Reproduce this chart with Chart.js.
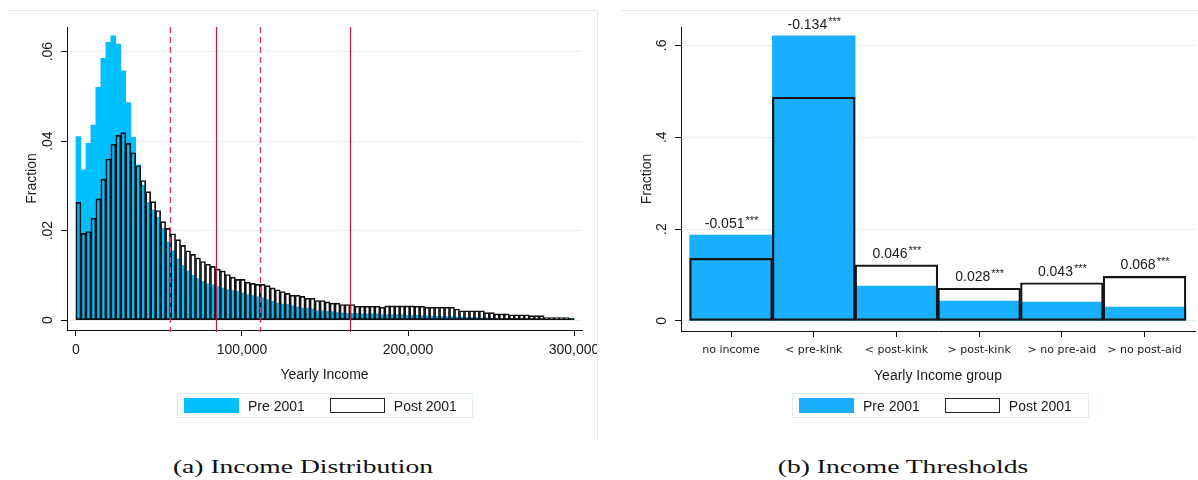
<!DOCTYPE html>
<html>
<head>
<meta charset="utf-8">
<script src="https://cdn.jsdelivr.net/npm/chart.js@4.4.0/dist/chart.umd.min.js"></script>
<style>
  body { margin: 0; background: #fff; width: 1198px; height: 480px; position: relative; overflow: hidden;
         font-family: "Liberation Sans", Arial, sans-serif; color: #1a1a1a; }
  .wrap { position: absolute; top: 0; height: 440px; }
  #leftWrap { left: 0; width: 597px; }
  #rightWrap { left: 600px; width: 598px; }
  .frameL { position: absolute; left: 8px; top: 10px; width: 589px; height: 430px;
            border-top: 1px solid #e3eded; border-right: 1px solid #e3eded; }
  .frameR { position: absolute; left: 621px; top: 10px; width: 577px; border-top: 1px solid #e3eded; }
  .legend { position: absolute; top: 393px; height: 25px; border: 1px solid #dcebee; box-sizing: border-box;
            display: flex; align-items: center; font-size: 14px; }
  .sw { width: 55px; height: 15px; box-sizing: border-box; margin: 0 9px 0 6px; }
  .caption { position: absolute; top: 456px; font-family: "Liberation Serif", serif; font-size: 19px; color: #111;
             transform: translateX(-50%) scaleX(1.45); white-space: nowrap; }
</style>
</head>
<body>
<div class="frameL"></div>
<div class="frameR"></div>
<div class="wrap" id="leftWrap"><canvas id="distChart" width="597" height="440"></canvas></div>
<div class="wrap" id="rightWrap"><canvas id="groupChart" width="598" height="440"></canvas></div>
<div class="legend" id="legendL" style="left:177px;width:296px;"></div>
<div class="legend" id="legendR" style="left:792px;width:297px;"></div>
<div class="caption" style="left:303px;">(a) Income Distribution</div>
<div class="caption" style="left:903px;">(b) Income Thresholds</div>

<script>
// ---- data: income distribution (bins of 3,000) ----
const binWidth = 3000;
const preDist = [
  0.0410, 0.0336, 0.0395, 0.0436, 0.0520, 0.0585, 0.0621, 0.0635, 0.0617, 0.0557,
  0.0486, 0.0409, 0.0347, 0.0302, 0.0263, 0.0246, 0.0230, 0.0205, 0.0175, 0.0155,
  0.0137, 0.0122, 0.0110, 0.0100, 0.0093, 0.0086, 0.0081, 0.0079, 0.0075, 0.0072,
  0.0068, 0.0066, 0.0064, 0.0061, 0.0057, 0.0055, 0.0052, 0.0050, 0.0046, 0.0042,
  0.0038, 0.0036, 0.0035, 0.0032, 0.0029, 0.0027, 0.0027, 0.0025, 0.0021, 0.0021,
  0.0020, 0.0019, 0.0017, 0.0016, 0.0015, 0.0015, 0.0015, 0.0014, 0.0014, 0.0014,
  0.0014, 0.0012, 0.0012, 0.0012, 0.0012, 0.0012, 0.0011, 0.0011, 0.0011, 0.0010,
  0.0010, 0.0009, 0.0009, 0.0008, 0.0008, 0.0008, 0.0007, 0.0007, 0.0006, 0.0006,
  0.0006, 0.0005, 0.0005, 0.0004, 0.0004, 0.0003, 0.0003, 0.0003, 0.0003, 0.0003,
  0.0002, 0.0002, 0.0002, 0.0002, 0.0002, 0.0002, 0.0002, 0.0002, 0.0002, 0.0002
];
const postDist = [
  0.0263, 0.0194, 0.0198, 0.0228, 0.0271, 0.0315, 0.0360, 0.0393, 0.0413, 0.0419,
  0.0395, 0.0374, 0.0345, 0.0312, 0.0287, 0.0265, 0.0245, 0.0220, 0.0205, 0.0193,
  0.0180, 0.0167, 0.0155, 0.0147, 0.0139, 0.0131, 0.0125, 0.0120, 0.0114, 0.0110,
  0.0102, 0.0096, 0.0091, 0.0091, 0.0085, 0.0082, 0.0080, 0.0080, 0.0077, 0.0072,
  0.0068, 0.0064, 0.0060, 0.0056, 0.0056, 0.0053, 0.0049, 0.0049, 0.0044, 0.0044,
  0.0041, 0.0038, 0.0038, 0.0035, 0.0035, 0.0035, 0.0031, 0.0031, 0.0031, 0.0031,
  0.0031, 0.0029, 0.0032, 0.0032, 0.0032, 0.0032, 0.0032, 0.0032, 0.0031, 0.0031,
  0.0029, 0.0029, 0.0029, 0.0029, 0.0029, 0.0029, 0.0025, 0.0021, 0.0021, 0.0021,
  0.0021, 0.0021, 0.0017, 0.0017, 0.0014, 0.0014, 0.0014, 0.0012, 0.0012, 0.0012,
  0.0012, 0.0010, 0.0010, 0.0010, 0.0006, 0.0006, 0.0006, 0.0006, 0.0006, 0.0004
];
const dashedThresholds = [56500, 111000];
const solidThresholds = [84500, 165000];
const incomeTicks = [0, 100000, 200000, 300000];
const distYTicks = [0, 0.02, 0.04, 0.06];
const distYLabels = ["0", ".02", ".04", ".06"];

// ---- data: income groups ----
const groups = ["no income", "< pre-kink", "< post-kink", "> post-kink", "> no pre-aid", "> no post-aid"];
const preGroup = [0.187, 0.621, 0.076, 0.043, 0.041, 0.030];
const postGroup = [0.136, 0.487, 0.122, 0.071, 0.083, 0.097];
const diffLabels = ["-0.051", "-0.134", "0.046", "0.028", "0.043", "0.068"];
const diffStars = ["***", "***", "***", "***", "***", "***"];
const groupYTicks = [0, 0.2, 0.4, 0.6];
const groupYLabels = ["0", ".2", ".4", ".6"];

const seriesNames = ["Pre 2001", "Post 2001"];

Chart.defaults.font.family = '"Liberation Sans", Arial, sans-serif';
Chart.defaults.font.size = 14;
Chart.defaults.color = "#1a1a1a";

const TXT = "#1a1a1a";
const GRID = "#e6efef";

// y tick labels are rotated (read bottom to top), drawn by hand
function rotatedYLabels(values, labels, centerX) {
  return {
    id: "rotY",
    afterDraw(chart) {
      const ctx = chart.ctx, ys = chart.scales.y;
      ctx.save();
      ctx.font = '14px "Liberation Sans", Arial, sans-serif';
      ctx.fillStyle = TXT;
      ctx.textAlign = "center";
      ctx.textBaseline = "middle";
      values.forEach((v, i) => {
        ctx.save();
        ctx.translate(centerX, ys.getPixelForValue(v));
        ctx.rotate(-Math.PI / 2);
        ctx.fillText(labels[i], 0, 0);
        ctx.restore();
      });
      ctx.restore();
    }
  };
}

function yAxis(min, max, ticks, width, titlePad) {
  return {
    min: min, max: max,
    afterBuildTicks: s => { s.ticks = ticks.map(v => ({ value: v })); },
    afterFit: s => { s.width = width; s.paddingTop = 0; s.paddingBottom = 0; },
    ticks: { display: false },
    grid: { color: GRID, lineWidth: 1, drawTicks: true, tickLength: 6, tickColor: "#111" },
    border: { display: true, color: "#111", width: 1 },
    title: { display: true, text: "Fraction", color: TXT, font: { size: 14 }, padding: { top: titlePad, bottom: 0 } }
  };
}

// --- Left: histogram ---
const thresholdLines = {
  id: "thresholds",
  afterDatasetsDraw(chart) {
    const ctx = chart.ctx, xs = chart.scales.x, area = chart.chartArea;
    ctx.save();
    ctx.strokeStyle = "#c8173f";
    ctx.lineWidth = 1.2;
    solidThresholds.forEach(v => {
      const x = Math.round(xs.getPixelForValue(v)) + 0.5;
      ctx.beginPath(); ctx.moveTo(x, area.top); ctx.lineTo(x, area.bottom + 2); ctx.stroke();
    });
    ctx.strokeStyle = "#d4416a";
    ctx.lineWidth = 1.4;
    ctx.setLineDash([6, 4]);
    dashedThresholds.forEach(v => {
      const x = Math.round(xs.getPixelForValue(v)) + 0.5;
      ctx.beginPath(); ctx.moveTo(x, area.top); ctx.lineTo(x, area.bottom + 2); ctx.stroke();
    });
    ctx.restore();
  }
};

new Chart(document.getElementById("distChart"), {
  type: "bar",
  data: {
    datasets: [
      {
        label: seriesNames[0],
        data: preDist.map((v, i) => ({ x: binWidth * i + binWidth / 2, y: v })),
        backgroundColor: "#00bfff",
        borderWidth: 0,
        barPercentage: 1, categoryPercentage: 1, grouped: false, order: 2
      },
      {
        label: seriesNames[1],
        data: postDist.map((v, i) => ({ x: binWidth * i + binWidth / 2, y: v })),
        backgroundColor: "rgba(0,0,0,0)",
        borderColor: "#111",
        borderWidth: 1,
        borderSkipped: false,
        barPercentage: 1, categoryPercentage: 1, grouped: false, order: 1
      }
    ]
  },
  options: {
    responsive: false,
    animation: false,
    layout: { padding: { top: 27, right: 15, left: 0, bottom: 0 } },
    plugins: { legend: { display: false }, tooltip: { enabled: false } },
    scales: {
      x: {
        type: "linear",
        offset: false,
        min: -5400, max: 304800,
        afterBuildTicks: s => { s.ticks = incomeTicks.map(v => ({ value: v })); },
        afterFit: s => { s.height = 110; s.paddingLeft = 0; s.paddingRight = 0; },
        ticks: { color: TXT, font: { size: 14 }, padding: 6, maxRotation: 0,
                 callback: v => Number(v).toLocaleString("en-US") },
        grid: { offset: false, drawOnChartArea: false, drawTicks: true, tickLength: 6, tickColor: "#111" },
        border: { display: true, color: "#111", width: 1 },
        title: { display: true, text: "Yearly Income", color: TXT, font: { size: 14 }, padding: { top: 0, bottom: 56 } }
      },
      y: yAxis(-0.0022, 0.0655, distYTicks, 67, 24)
    }
  },
  plugins: [thresholdLines, rotatedYLabels(distYTicks, distYLabels, 48)]
});

// --- Right: income groups ---
const diffText = {
  id: "diffText",
  afterDatasetsDraw(chart) {
    const ctx = chart.ctx, xs = chart.scales.x, ys = chart.scales.y;
    ctx.save();
    ctx.fillStyle = TXT;
    ctx.textAlign = "left";
    ctx.textBaseline = "middle";
    groups.forEach((g, i) => {
      const top = ys.getPixelForValue(Math.max(preGroup[i], postGroup[i]));
      const cx = xs.getPixelForValue(i);
      ctx.font = '14px "Liberation Sans", Arial, sans-serif';
      const w1 = ctx.measureText(diffLabels[i]).width;
      ctx.font = '11px "Liberation Sans", Arial, sans-serif';
      const w2 = ctx.measureText(diffStars[i]).width;
      const x0 = cx - (w1 + w2) / 2;
      ctx.font = '14px "Liberation Sans", Arial, sans-serif';
      ctx.fillText(diffLabels[i], x0, top - 11);
      ctx.font = '11px "Liberation Sans", Arial, sans-serif';
      ctx.fillText(diffStars[i], x0 + w1 + 1, top - 14);
    });
    ctx.restore();
  }
};

new Chart(document.getElementById("groupChart"), {
  type: "bar",
  data: {
    datasets: [
      {
        label: seriesNames[0],
        data: preGroup.map((v, i) => ({ x: i, y: v })),
        backgroundColor: "#1aaffc",
        borderWidth: 0,
        barPercentage: 1, categoryPercentage: 1, grouped: false, order: 2
      },
      {
        label: seriesNames[1],
        data: postGroup.map((v, i) => ({ x: i, y: v })),
        backgroundColor: "rgba(0,0,0,0)",
        borderColor: "#151515",
        borderWidth: 1.5,
        borderSkipped: false,
        barPercentage: 1, categoryPercentage: 1, grouped: false, order: 1
      }
    ]
  },
  options: {
    responsive: false,
    animation: false,
    layout: { padding: { top: 27, right: 3, left: 0, bottom: 0 } },
    plugins: { legend: { display: false }, tooltip: { enabled: false } },
    scales: {
      x: {
        type: "linear",
        offset: false,
        min: -0.605, max: 5.61,
        afterBuildTicks: s => { s.ticks = groups.map((g, i) => ({ value: i })); },
        afterFit: s => { s.height = 109; s.paddingLeft = 0; s.paddingRight = 0; },
        ticks: { color: TXT, font: { family: '"DejaVu Sans", sans-serif', size: 11 }, padding: 7, maxRotation: 0,
                 autoSkip: false, callback: v => groups[v] },
        grid: { offset: false, drawOnChartArea: false, drawTicks: true, tickLength: 6, tickColor: "#111" },
        border: { display: true, color: "#111", width: 1 },
        title: { display: true, text: "Yearly Income group", color: TXT, font: { size: 14 }, padding: { top: 0, bottom: 55 } }
      },
      y: yAxis(-0.022, 0.64, groupYTicks, 81, 39)
    }
  },
  plugins: [diffText, rotatedYLabels(groupYTicks, groupYLabels, 62)]
});

// --- Legends ---
function buildLegend(id, fill) {
  const el = document.getElementById(id);
  el.innerHTML =
    '<div class="sw" style="background:' + fill + ';"></div><span>' + seriesNames[0] + '</span>' +
    '<div class="sw" style="margin-left:25px;border:1px solid #222;background:#fff;"></div><span>' + seriesNames[1] + '</span>';
}
buildLegend("legendL", "#00bfff");
buildLegend("legendR", "#1aaffc");
</script>
</body>
</html>
